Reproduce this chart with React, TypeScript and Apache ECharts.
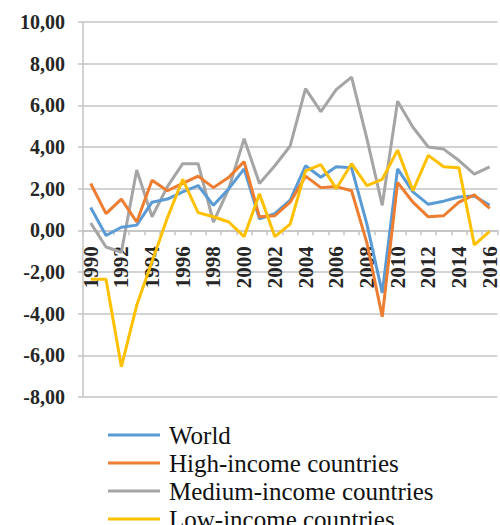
import React, { useEffect, useRef } from "react";
import * as echarts from "echarts";

// Annual growth rates, 1990–2016
const years: string[] = [];
for (let y = 1990; y <= 2016; y++) years.push(String(y));

const world = [
  1.1, -0.25, 0.15, 0.25, 1.35, 1.5, 1.85, 2.15, 1.2, 2.0,
  2.95, 0.55, 0.8, 1.45, 3.1, 2.55, 3.05, 3.0, 0.3, -3.0,
  2.95, 1.85, 1.25, 1.4, 1.6, 1.65, 1.2,
];
const highIncome = [
  2.25, 0.8, 1.5, 0.4, 2.4, 1.9, 2.25, 2.6, 2.05, 2.55,
  3.3, 0.65, 0.7, 1.35, 2.6, 2.05, 2.1, 1.9, -0.6, -4.15,
  2.3, 1.35, 0.65, 0.7, 1.35, 1.7, 1.05,
];
const mediumIncome = [
  0.35, -0.8, -1.05, 2.9, 0.65, 2.1, 3.2, 3.2, 0.4, 2.0,
  4.4, 2.25, 3.1, 4.05, 6.8, 5.7, 6.75, 7.35, 4.4, 1.2,
  6.2, 4.95, 4.0, 3.9, 3.35, 2.7, 3.05,
];
const lowIncome = [
  -2.35, -2.35, -6.55, -3.6, -1.5, 0.6, 2.45, 0.85, 0.65, 0.4,
  -0.3, 1.75, -0.3, 0.3, 2.85, 3.15, 2.0, 3.2, 2.15, 2.45,
  3.85, 1.9, 3.6, 3.05, 3.0, -0.7, -0.05,
];

const seriesNames = [
  "World",
  "High-income countries",
  "Medium-income countries",
  "Low-income countries",
];
const seriesData = [world, highIncome, mediumIncome, lowIncome];
const colors = ["#5B9BD5", "#ED7D31", "#A5A5A5", "#FFC000"];

const yMin = -8;
const yMax = 10;

const serif = "'Liberation Serif', 'Times New Roman', serif";
const gridColor = "#c4c4c4";

const gridTop = 22;
const gridBottom = 128;
const chartHeight = 525;

export default function App() {
  const ref = useRef<HTMLDivElement>(null);

  useEffect(() => {
    document.body.style.margin = "0";
    if (!ref.current) return;
    const chart = echarts.init(ref.current, null, { renderer: "svg" });

    // The category axis sits on the zero line: shift it up from the grid's bottom edge
    const plotHeight = chartHeight - gridTop - gridBottom;
    const zeroOffset = -(plotHeight * (0 - yMin)) / (yMax - yMin);

    // One legend per row so the list stays in a single column below the plot
    const legends = seriesNames.map((name, i) => ({
      orient: "vertical",
      left: 108,
      top: 421 + i * 28,
      padding: 0,
      icon: "rect",
      itemWidth: 52,
      itemHeight: 3,
      itemGap: 0,
      data: [name],
      textStyle: {
        fontFamily: serif,
        fontSize: 25,
        color: "#111111",
        lineHeight: 28,
        padding: [0, 0, 0, 4],
      },
    }));

    chart.setOption({
      animation: false,
      backgroundColor: "#ffffff",
      color: colors,
      grid: { left: 83, right: -6, top: gridTop, bottom: gridBottom, containLabel: false },
      xAxis: {
        type: "category",
        data: years,
        boundaryGap: true,
        offset: zeroOffset,
        axisLine: { onZero: false, lineStyle: { color: gridColor, width: 1.5 } },
        axisTick: { show: true, interval: 0, length: 5, lineStyle: { color: gridColor, width: 1.5 } },
        axisLabel: {
          interval: 1,
          rotate: 90,
          margin: 16,
          fontFamily: serif,
          fontWeight: "bold",
          fontSize: 21,
          color: "#262626",
        },
        splitLine: { show: false },
      },
      yAxis: {
        type: "value",
        min: yMin,
        max: yMax,
        interval: 2,
        axisLine: { show: true, lineStyle: { color: gridColor, width: 1.5 } },
        axisTick: { show: true, length: 5, lineStyle: { color: gridColor, width: 1.5 } },
        axisLabel: {
          margin: 18,
          fontFamily: serif,
          fontWeight: "bold",
          fontSize: 20,
          color: "#262626",
          formatter: (v: number) => v.toFixed(2).replace(".", ","),
        },
        splitLine: { show: true, lineStyle: { color: gridColor, width: 1.5 } },
      },
      legend: legends,
      series: seriesNames.map((name, i) => ({
        name,
        type: "line",
        data: seriesData[i],
        symbol: "none",
        lineStyle: { width: 3, color: colors[i] },
        itemStyle: { color: colors[i] },
        z: i === 2 ? 1 : 2 + i,
      })),
    });
    return () => chart.dispose();
  }, []);

  return <div ref={ref} style={{ width: 500, height: chartHeight }} />;
}
